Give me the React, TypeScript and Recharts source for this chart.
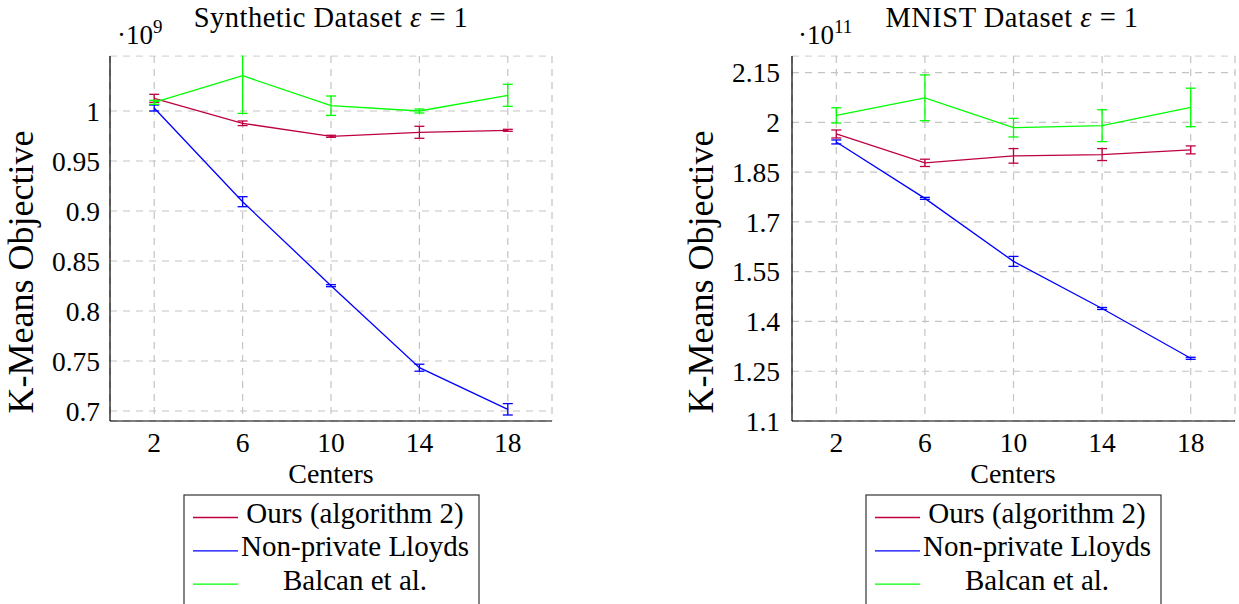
import React from "react";
import { LineChart, Line, XAxis, YAxis, CartesianGrid, ErrorBar } from "recharts";

const centers = [2, 6, 10, 14, 18];

// Synthetic dataset (x 10^9)
const synOurs = [1.0127, 0.9877, 0.9747, 0.9787, 0.9807];
const synOursErr = [0.004, 0.0023, 0.001, 0.006, 0.001];
const synLloyds = [1.003, 0.9093, 0.8253, 0.7433, 0.7017];
const synLloydsErr = [0.003, 0.005, 0.001, 0.0035, 0.0057];
const synBalcan = [1.0087, 1.0353, 1.0053, 1.0, 1.0157];
const synBalcanErr = [0.002, 0.0377, 0.0097, 0.002, 0.011];
const synTicks = [0.7, 0.75, 0.8, 0.85, 0.9, 0.95, 1];

// MNIST dataset (x 10^11)
const mnOurs = [1.965, 1.878, 1.899, 1.903, 1.917];
const mnOursErr = [0.012, 0.011, 0.022, 0.018, 0.012];
const mnLloyds = [1.941, 1.771, 1.581, 1.439, 1.289];
const mnLloydsErr = [0.006, 0.003, 0.015, 0.003, 0.003];
const mnBalcan = [2.021, 2.074, 1.984, 1.99, 2.045];
const mnBalcanErr = [0.023, 0.069, 0.028, 0.048, 0.058];
const mnTicks = [1.1, 1.25, 1.4, 1.55, 1.7, 1.85, 2, 2.15];

const SERIES = [
  { key: "ours", name: "Ours (algorithm 2)", color: "#bf0040" },
  { key: "lloyds", name: "Non-private Lloyds", color: "#0000ff" },
  { key: "balcan", name: "Balcan et al.", color: "#00ff00" },
];

const FONT = "'Liberation Serif', 'Times New Roman', serif";

function buildRows(ours, oursErr, lloyds, lloydsErr, balcan, balcanErr) {
  return centers.map((c, i) => ({
    centers: c,
    ours: ours[i],
    oursErr: oursErr[i],
    lloyds: lloyds[i],
    lloydsErr: lloydsErr[i],
    balcan: balcan[i],
    balcanErr: balcanErr[i],
  }));
}

const synData = buildRows(synOurs, synOursErr, synLloyds, synLloydsErr, synBalcan, synBalcanErr);
const mnData = buildRows(mnOurs, mnOursErr, mnLloyds, mnLloydsErr, mnBalcan, mnBalcanErr);

function Panel({ data, yDomain, yTicks, left, width, marginLeft, marginRight, tickGap }) {
  return (
    <div style={{ position: "absolute", left, top: 0 }}>
      <LineChart
        width={width}
        height={604}
        data={data}
        margin={{ top: 56, right: marginRight, bottom: 153, left: marginLeft }}
      >
        <CartesianGrid stroke="#c4c4c4" strokeDasharray="7 6" strokeWidth={1.2} />
        <XAxis
          dataKey="centers"
          type="number"
          domain={[0, 20]}
          ticks={centers}
          height={30}
          tickLine={false}
          tickSize={0}
          tickMargin={11}
          axisLine={{ stroke: "#000", strokeWidth: 1.2 }}
          tick={{ fontSize: 27.5, fill: "#000", fontFamily: FONT }}
        />
        <XAxis
          xAxisId="top"
          orientation="top"
          type="number"
          domain={[0, 20]}
          height={0}
          tick={false}
          tickLine={false}
          axisLine={{ stroke: "#000", strokeWidth: 1.2 }}
        />
        <YAxis
          type="number"
          domain={yDomain}
          allowDataOverflow
          ticks={yTicks}
          width={100}
          tickLine={false}
          tickSize={0}
          tickMargin={tickGap}
          axisLine={{ stroke: "#000", strokeWidth: 1.2 }}
          tick={{ fontSize: 27.5, fill: "#000", fontFamily: FONT }}
        />
        <YAxis
          yAxisId="right"
          orientation="right"
          type="number"
          domain={yDomain}
          allowDataOverflow
          width={0}
          tick={false}
          tickLine={false}
          axisLine={{ stroke: "#000", strokeWidth: 1.2 }}
        />
        {SERIES.map((s) => (
          <Line
            key={s.key}
            dataKey={s.key}
            stroke={s.color}
            strokeWidth={1.3}
            dot={false}
            activeDot={false}
            isAnimationActive={false}
          >
            <ErrorBar
              dataKey={s.key + "Err"}
              direction="y"
              width={5}
              stroke={s.color}
              strokeWidth={1.3}
              isAnimationActive={false}
            />
          </Line>
        ))}
      </LineChart>
    </div>
  );
}

function LegendBox({ x }) {
  return (
    <g>
      <rect x={x} y={495} width={295} height={130} fill="#fff" stroke="#333" strokeWidth={1.2} />
      {SERIES.map((s, i) => (
        <g key={s.key}>
          <line x1={x + 9} x2={x + 54} y1={517.5 + i * 33.3} y2={517.5 + i * 33.3} stroke={s.color} strokeWidth={1.3} />
          <text x={x + 171} y={523 + i * 33.3} textAnchor="middle" fontSize={29}>
            {s.name}
          </text>
        </g>
      ))}
    </g>
  );
}

export default function App() {
  return (
    <div
      style={{
        position: "absolute",
        left: 0,
        top: 0,
        width: 1239,
        height: 604,
        overflow: "hidden",
        background: "#fff",
        fontFamily: FONT,
      }}
    >
      <Panel
        data={synData}
        yDomain={[0.69, 1.055]}
        yTicks={synTicks}
        left={0}
        width={600}
        marginLeft={10}
        marginRight={48}
        tickGap={10}
      />
      <Panel
        data={mnData}
        yDomain={[1.1, 2.2]}
        yTicks={mnTicks}
        left={680}
        width={559}
        marginLeft={12}
        marginRight={4}
        tickGap={12}
      />
      <svg
        width={1239}
        height={604}
        style={{ position: "absolute", left: 0, top: 0, pointerEvents: "none", fontFamily: FONT }}
      >
        {/* clip error bars that run past the top of the axis box */}
        <rect x={100} y={0} width={470} height={55.3} fill="#fff" />
        <rect x={780} y={0} width={459} height={55.3} fill="#fff" />
        <text x={331} y={27} textAnchor="middle" fontSize={28.5} letterSpacing={0.5}>
          Synthetic Dataset <tspan fontStyle="italic">ε</tspan> = 1
        </text>
        <text x={1012} y={27} textAnchor="middle" fontSize={28.5} letterSpacing={0.5}>
          MNIST Dataset <tspan fontStyle="italic">ε</tspan> = 1
        </text>
        <text x={117} y={44} fontSize={27}>
          ·10<tspan dy={-11} fontSize={19}>9</tspan>
        </text>
        <text x={798} y={44} fontSize={27}>
          ·10<tspan dy={-11} fontSize={19}>11</tspan>
        </text>
        <text transform="translate(33,272) rotate(-90)" textAnchor="middle" fontSize={36}>
          K-Means Objective
        </text>
        <text transform="translate(713,272) rotate(-90)" textAnchor="middle" fontSize={36}>
          K-Means Objective
        </text>
        <text x={331} y={483} textAnchor="middle" fontSize={28}>
          Centers
        </text>
        <text x={1013} y={483} textAnchor="middle" fontSize={28}>
          Centers
        </text>
        <LegendBox x={184} />
        <LegendBox x={866} />
      </svg>
    </div>
  );
}
